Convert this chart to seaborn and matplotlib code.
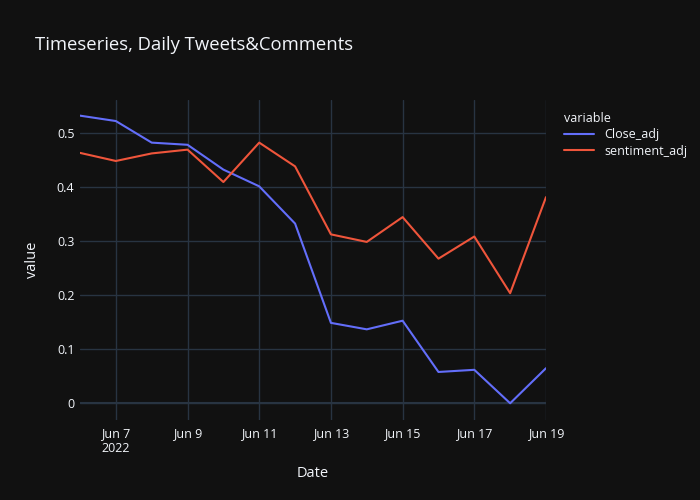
import pandas as pd
import matplotlib
matplotlib.use('Agg')
import matplotlib.pyplot as plt
import matplotlib.dates as mdates
from matplotlib.ticker import FuncFormatter
import seaborn as sns

# values
dates = ['2022-06-06', '2022-06-07', '2022-06-08', '2022-06-09', '2022-06-10',
         '2022-06-11', '2022-06-12', '2022-06-13', '2022-06-14', '2022-06-15',
         '2022-06-16', '2022-06-17', '2022-06-18', '2022-06-19']
close_adj = [0.533, 0.523, 0.483, 0.479, 0.433, 0.402, 0.333,
             0.149, 0.137, 0.153, 0.058, 0.062, 0.0, 0.065]
sentiment_adj = [0.464, 0.449, 0.463, 0.470, 0.410, 0.483, 0.439,
                 0.313, 0.299, 0.345, 0.268, 0.309, 0.204, 0.382]
tick_dates = ['2022-06-07', '2022-06-09', '2022-06-11', '2022-06-13',
              '2022-06-15', '2022-06-17', '2022-06-19']
y_ticks = [0, 0.1, 0.2, 0.3, 0.4, 0.5]

df = pd.DataFrame({'Date': pd.to_datetime(dates),
                   'Close_adj': close_adj,
                   'sentiment_adj': sentiment_adj})
long = df.melt(id_vars='Date', var_name='variable', value_name='value')

bg = '#111111'
grid = '#283442'
fg = '#f2f5fa'

sns.set_style('dark')
plt.rcParams['font.family'] = ['Open Sans', 'DejaVu Sans']

fig = plt.figure(figsize=(7, 5), dpi=100, facecolor=bg)
ax = fig.add_axes([80 / 700, 80 / 500, 466 / 700, 320 / 500])
ax.set_facecolor(bg)

sns.lineplot(data=long, x='Date', y='value', hue='variable',
             palette=['#636efa', '#EF553B'], linewidth=1.5, ax=ax)

ax.set_xlim(pd.Timestamp(dates[0]), pd.Timestamp(dates[-1]))
ax.set_ylim(-0.031, 0.562)

ticks = pd.to_datetime(tick_dates)
ax.set_xticks(mdates.date2num(ticks))


def fmt(x, pos):
    d = mdates.num2date(x)
    label = 'Jun %d' % d.day
    if pos == 0:
        label += '\n2022'
    return label


ax.xaxis.set_major_formatter(FuncFormatter(fmt))
ax.set_yticks(y_ticks)
ax.set_yticklabels(['0', '0.1', '0.2', '0.3', '0.4', '0.5'])

ax.grid(True, color=grid, linewidth=1)
ax.axhline(0, color=grid, linewidth=1.5, zorder=1)
ax.set_axisbelow(True)
for s in ax.spines.values():
    s.set_visible(False)
ax.tick_params(length=0, colors=fg, labelsize=9)
ax.tick_params(axis='y', pad=4)
ax.tick_params(axis='x', pad=5)

ax.set_xlabel('Date', color=fg, fontsize=10.5, labelpad=8)
ax.set_ylabel('value', color=fg, fontsize=10.5, labelpad=12)

fig.text(35 / 700, 1 - 45 / 500, 'Timeseries, Daily Tweets&Comments',
         color=fg, fontsize=13.3, va='center', ha='left')

leg = ax.legend(title='variable', loc='upper left',
                bbox_to_anchor=(553 / 700, 1 - 101 / 500),
                bbox_transform=fig.transFigure, frameon=False,
                handlelength=2.4, fontsize=9, title_fontsize=9,
                alignment='left', labelspacing=0.25)
leg.get_title().set_color(fg)
for t in leg.get_texts():
    t.set_color(fg)

fig.savefig('out.png', dpi=100, facecolor=bg)
